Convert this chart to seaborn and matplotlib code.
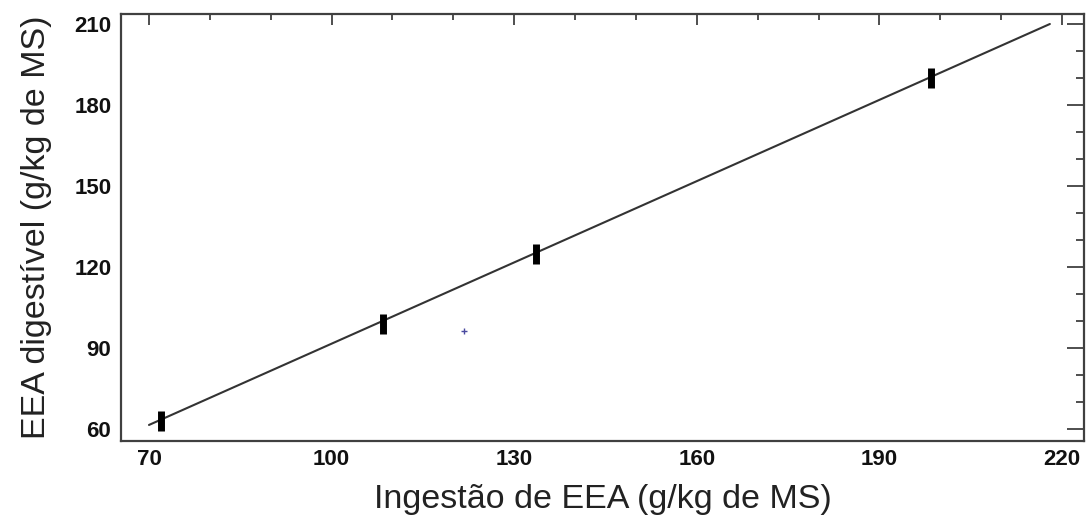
import matplotlib
matplotlib.use("Agg")
import matplotlib.pyplot as plt
import seaborn as sns
import pandas as pd
from matplotlib.ticker import MultipleLocator

# Data
intake = [72.0, 108.5, 133.5, 198.5]
digestible = [63.0, 99.0, 125.0, 190.0]
fit_x = [70.0, 218.0]
fit_y = [61.5, 210.0]
stray_x = [121.8]
stray_y = [96.3]
x_ticks = [70, 100, 130, 160, 190, 220]
y_ticks = [60, 90, 120, 150, 180, 210]
x_label = "Ingestão de EEA (g/kg de MS)"
y_label = "EEA digestível (g/kg de MS)"

sns.set_theme(style="white")
plt.rcParams["font.family"] = ["Liberation Sans", "DejaVu Sans"]

fig = plt.figure(figsize=(10.87, 5.19), dpi=100)
ax = fig.add_axes([0.1113, 0.1503, 0.9972 - 0.1113, 0.973 - 0.1503])

pts = pd.DataFrame({"x": intake, "y": digestible})
fit = pd.DataFrame({"x": fit_x, "y": fit_y})
stray = pd.DataFrame({"x": stray_x, "y": stray_y})

sns.lineplot(data=fit, x="x", y="y", ax=ax, color="#333333", linewidth=1.5)
sns.scatterplot(data=pts, x="x", y="y", ax=ax, marker="|", s=200,
                color="black", linewidth=5, zorder=5)
sns.scatterplot(data=stray, x="x", y="y", ax=ax, marker="+", s=14,
                color="#4a4aa0", linewidth=1.0, zorder=5)

ax.set_xlim(65.4, 223.6)
ax.set_ylim(55.56, 213.7)
ax.set_xticks(x_ticks)
ax.set_yticks(y_ticks)
ax.xaxis.set_minor_locator(MultipleLocator(10))
ax.yaxis.set_minor_locator(MultipleLocator(10))

for s in ax.spines.values():
    s.set_color("#404040")
    s.set_linewidth(1.6)
    s.set_visible(True)

ax.tick_params(axis="both", which="both", direction="in", top=True, right=True,
               color="#404040", width=1.3)
ax.tick_params(axis="x", which="major", length=8, pad=6)
ax.tick_params(axis="x", which="minor", length=4)
ax.tick_params(axis="y", which="major", length=12, pad=7)
ax.tick_params(axis="y", which="minor", length=6)

for lab in ax.get_xticklabels() + ax.get_yticklabels():
    lab.set_fontsize(16)
    lab.set_fontweight("bold")
    lab.set_color("#111111")

ax.set_xlabel(x_label, fontsize=24.5, color="#222222", labelpad=10)
ax.set_ylabel(y_label, fontsize=24.5, color="#222222", labelpad=16)

fig.savefig("out.png", dpi=100, facecolor="white")
